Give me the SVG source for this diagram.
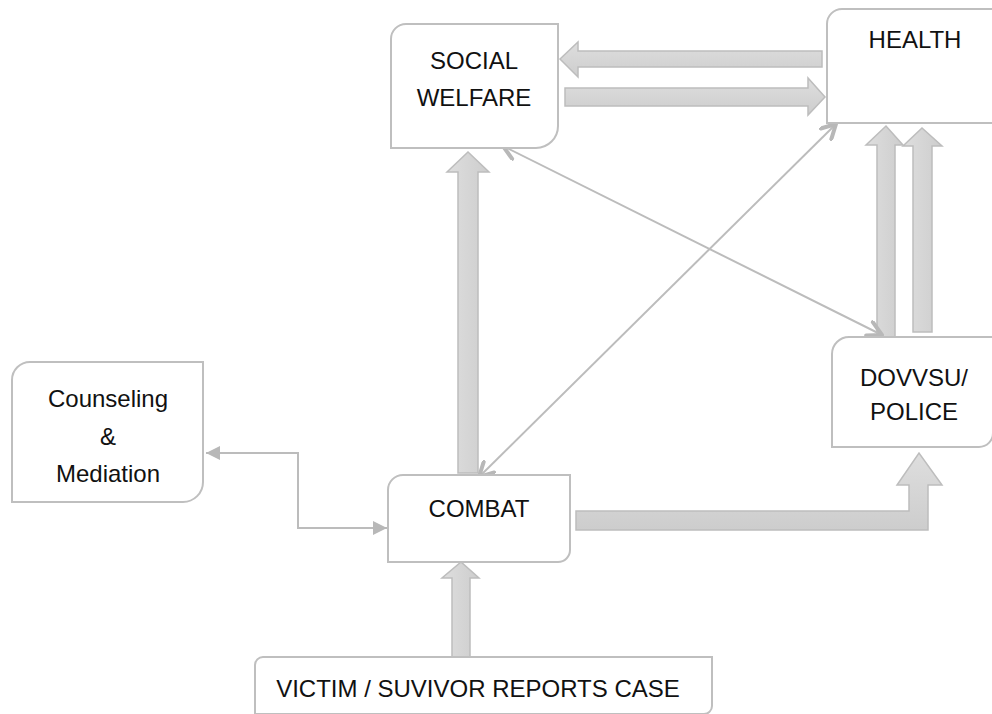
<svg xmlns="http://www.w3.org/2000/svg" width="992" height="714" viewBox="0 0 992 714">
<defs>
<linearGradient id="gv" x1="0" y1="0" x2="1" y2="0"><stop offset="0" stop-color="#dedede"/><stop offset="1" stop-color="#cdcdcd"/></linearGradient>
<linearGradient id="gh" x1="0" y1="0" x2="0" y2="1"><stop offset="0" stop-color="#dedede"/><stop offset="1" stop-color="#cdcdcd"/></linearGradient>
<marker id="open" viewBox="0 0 18 18" refX="16" refY="9" markerWidth="18" markerHeight="18" markerUnits="userSpaceOnUse" orient="auto-start-reverse">
<path d="M2,1.5 L16,9 L2,16.5" fill="none" stroke="#b8b8b8" stroke-width="4" stroke-linecap="round" stroke-linejoin="round"/>
</marker>
<marker id="tri" viewBox="0 0 14 14" refX="14" refY="7" markerWidth="14" markerHeight="14" markerUnits="userSpaceOnUse" orient="auto-start-reverse">
<path d="M0,0 L14,7 L0,14 Z" fill="#b8b8b8"/>
</marker>
</defs>
<style>
.box{fill:#fff;stroke:#bfbfbf;stroke-width:2}
.lbl{font-family:"Liberation Sans",Arial,sans-serif;font-size:24px;fill:#111;text-anchor:middle}
.blk{stroke:#bdbdbd;stroke-width:1.5;stroke-linejoin:miter}
.thin{fill:none;stroke:#bcbcbc;stroke-width:2}
</style>
<rect width="992" height="714" fill="#fff"/>

<g id="connectors">
<path class="blk" fill="url(#gh)" d="M560,59 L578,42 L578,51 L822,51 L822,67 L578,67 L578,77 Z"/>
<path class="blk" fill="url(#gh)" d="M565,88 L808,88 L808,78 L825,97 L808,115 L808,106 L565,106 Z"/>
<path class="blk" fill="url(#gv)" d="M877,337 L877,145 L866,145 L886,126 L903,145 L895,145 L895,337 Z"/>
<path class="blk" fill="url(#gv)" d="M913,332 L913,146 L903,146 L922,128 L942,146 L932,146 L932,332 Z"/>
<path class="blk" fill="url(#gv)" d="M458,473 L458,172 L447,172 L468,152 L489,172 L478,172 L478,473 Z"/>
<path class="blk" fill="url(#gv)" d="M452,657 L452,578 L442,578 L461,562 L479,578 L470,578 L470,657 Z"/>
<path class="blk" fill="url(#gh)" d="M576,511 L909,511 L909,485 L897,485 L919,453 L942,485 L928,485 L928,530 L576,530 Z"/>
<line class="thin" x1="479" y1="477" x2="836" y2="124" marker-start="url(#open)" marker-end="url(#open)"/>
<line class="thin" x1="503" y1="146" x2="882" y2="335" marker-start="url(#open)" marker-end="url(#open)"/>
<path class="thin" d="M206,453 L298,453 L298,528 L387,528" marker-start="url(#tri)" marker-end="url(#tri)"/>
</g>

<g id="social-welfare">
<path class="box" d="M406,24 L558,24 L558,126 A22,22 0 0 1 536,148 L391,148 L391,39 A15,15 0 0 1 406,24 Z"/>
<text class="lbl" x="474" y="69">SOCIAL</text>
<text class="lbl" x="474" y="106">WELFARE</text>
</g>

<g id="health">
<path class="box" d="M842,9 L1000,9 L1000,123 L827,123 L827,24 A15,15 0 0 1 842,9 Z"/>
<text class="lbl" x="915" y="48">HEALTH</text>
</g>

<g id="police">
<path class="box" d="M849,337 L993,337 L993,433 A14,14 0 0 1 979,447 L832,447 L832,354 A17,17 0 0 1 849,337 Z"/>
<text class="lbl" x="914" y="386">DOVVSU/</text>
<text class="lbl" x="914" y="420">POLICE</text>
</g>

<g id="counseling">
<path class="box" d="M30,362 L203,362 L203,482 A20,20 0 0 1 183,502 L12,502 L12,380 A18,18 0 0 1 30,362 Z"/>
<text class="lbl" x="108" y="407">Counseling</text>
<text class="lbl" x="108" y="445">&amp;</text>
<text class="lbl" x="108" y="482">Mediation</text>
</g>

<g id="combat">
<path class="box" d="M403,475 L570,475 L570,550 A12,12 0 0 1 558,562 L388,562 L388,490 A15,15 0 0 1 403,475 Z"/>
<text class="lbl" x="479" y="517">COMBAT</text>
</g>

<g id="victim">
<path class="box" d="M263,657 L712,657 L712,706 A8,8 0 0 1 704,714 L255,714 L255,665 A8,8 0 0 1 263,657 Z"/>
<text class="lbl" x="478" y="697">VICTIM / SUVIVOR REPORTS CASE</text>
</g>
</svg>
